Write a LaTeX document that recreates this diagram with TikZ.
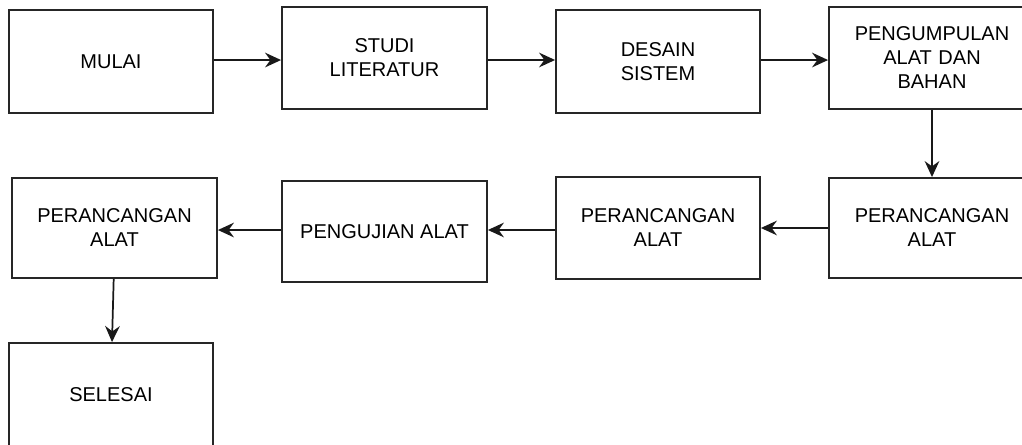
\documentclass[tikz,border=0pt]{standalone}
\usepackage{fontspec}
\setmainfont{Liberation Sans}
\usetikzlibrary{arrows.meta}
\begin{document}
\begin{tikzpicture}[x=0.75pt,y=-0.75pt,
  box/.style={draw=black!85, line width=1.4pt, rectangle, align=center,
    font=\fontsize{15pt}{18pt}\selectfont, inner sep=0pt},
  conn/.style={line width=1.3pt, draw=black!90, -{Stealth[length=12pt,width=11pt,inset=4pt]}}]
\useasboundingbox (0,0) rectangle (1022,445);
\clip (0,0) rectangle (1022,445);
\node[box, minimum width=153pt, minimum height=77.25pt] (mulai) at (111,61.5) {MULAI};
\node[box, minimum width=153.75pt, minimum height=76.5pt] (studi) at (384.5,58) {STUDI\\LITERATUR};
\node[box, minimum width=153pt, minimum height=77.25pt] (desain) at (658,61.5) {DESAIN\\SISTEM};
\node[box, minimum width=154.5pt, minimum height=76.5pt, text width=140pt] (kumpul) at (932,58) {PENGUMPULAN\\ALAT DAN\\BAHAN};
\node[box, minimum width=154.5pt, minimum height=75pt] (rancR) at (932,228) {PERANCANGAN\\ALAT};
\node[box, minimum width=153pt, minimum height=76.5pt] (rancM) at (658,228) {PERANCANGAN\\ALAT};
\node[box, minimum width=153.75pt, minimum height=75.75pt] (uji) at (384.5,231.5) {PENGUJIAN ALAT};
\node[box, minimum width=153.75pt, minimum height=75pt] (rancL) at (114.5,228) {PERANCANGAN\\ALAT};
\node[box, minimum width=153pt, minimum height=77.25pt] (selesai) at (111,394.5) {SELESAI};
\draw[conn] ([yshift=1.1pt]mulai.east) -- ([yshift=1.1pt]mulai.east -| studi.west);
\draw[conn] ([yshift=-1.5pt]studi.east) -- ([yshift=-1.5pt]studi.east -| desain.west);
\draw[conn] ([yshift=1.1pt]desain.east) -- ([yshift=1.1pt]desain.east -| kumpul.west);
\draw[conn] (kumpul.south) -- (rancR.north);
\draw[conn] (rancR.west) -- (rancR.west -| rancM.east);
\draw[conn] ([yshift=-1.5pt]rancM.west) -- ([yshift=-1.5pt]rancM.west -| uji.east);
\draw[conn] ([yshift=1.1pt]uji.west) -- ([yshift=1.1pt]uji.west -| rancL.east);
\draw[conn] ([xshift=-0.6pt]rancL.south) -- ([xshift=0.75pt]selesai.north);
\end{tikzpicture}
\end{document}
